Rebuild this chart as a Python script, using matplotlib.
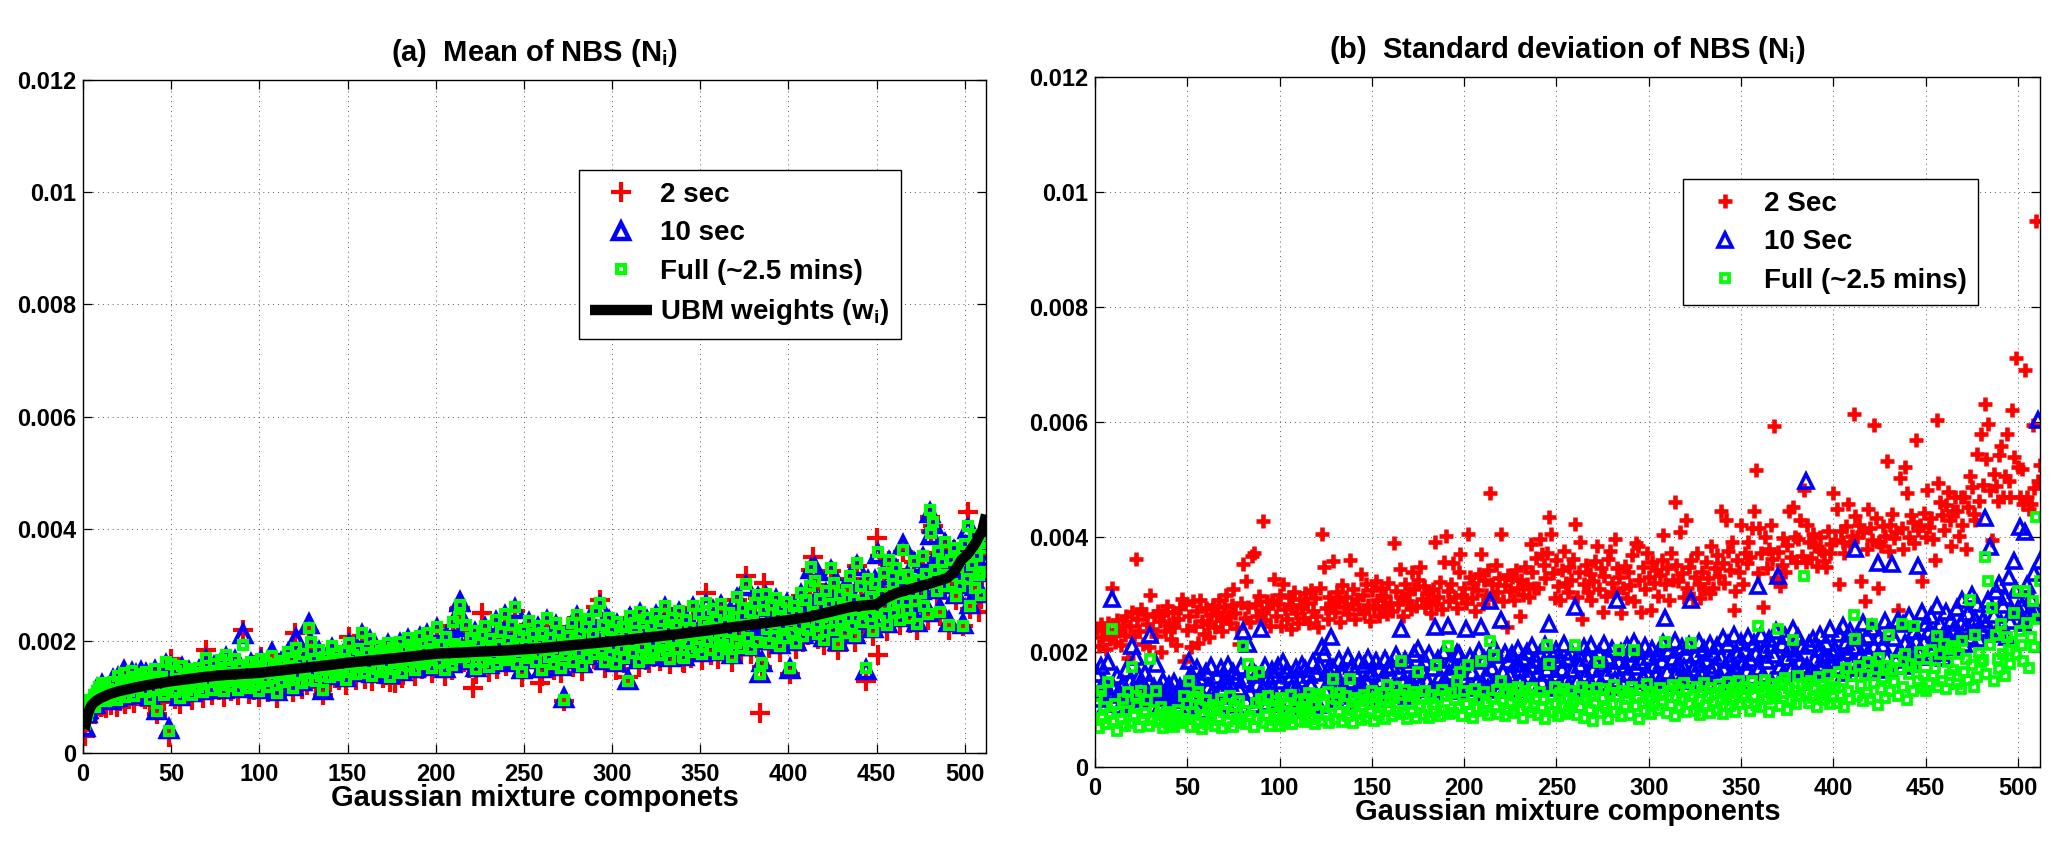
import numpy as np
import matplotlib
matplotlib.use('Agg')
import matplotlib.pyplot as plt
from matplotlib.ticker import FuncFormatter

# ---------------- data (values in units of 1e-5) ----------------
# (a) mean of NBS per Gaussian component (components sorted by UBM weight)
mean_full = [
    52, 68, 74, 95, 88, 103, 82, 110, 118, 96, 125, 104, 92, 115, 108, 99,
    126, 112, 95, 138, 104, 118, 142, 99, 131, 110, 124, 147, 102, 135, 116, 128,
    140, 121, 108, 145, 126, 97, 133, 115, 150, 74, 128, 112, 136, 104, 162, 118,
    40, 158, 124, 109, 146, 131, 98, 155, 120, 138, 112, 149, 127, 104, 142, 133,
    118, 151, 129, 108, 144, 170, 126, 139, 113, 158, 132, 147, 121, 165, 136, 110,
    174, 128, 152, 119, 143, 168, 131, 112, 157, 138, 193, 125, 149, 116, 162, 134,
    121, 155, 137, 110, 168, 146, 129, 160, 118, 142, 173, 133, 151, 107, 139, 164,
    126, 158, 141, 180, 133, 169, 116, 152, 188, 139, 162, 124, 176, 146, 131, 223,
    198, 142, 167, 129, 156, 184, 137, 113, 171, 148, 162, 135, 190, 154, 143, 176,
    139, 168, 152, 181, 131, 163, 197, 146, 174, 158, 140, 186, 153, 214, 166, 142,
    178, 156, 203, 138, 171, 191, 149, 165, 182, 144, 175, 158, 196, 136, 169, 187,
    152, 178, 161, 198, 143, 185, 170, 205, 155, 192, 166, 148, 187, 173, 209, 159,
    181, 163, 214, 170, 197, 152, 186, 175, 225, 161, 193, 179, 148, 206, 168, 188,
    157, 234, 195, 175, 242, 264, 189, 171, 229, 184, 162, 205, 177, 218, 150, 196,
    174, 211, 163, 226, 190, 154, 204, 182, 169, 237, 158, 193, 215, 176, 248, 166,
    200, 172, 228, 187, 261, 159, 208, 181, 145, 219, 193, 170, 236, 176, 212, 188,
    163, 226, 197, 148, 214, 183, 240, 171, 205, 188, 158, 231, 179, 216, 152, 194,
    95, 174, 208, 185, 232, 163, 199, 246, 178, 213, 156, 192, 224, 170, 239, 187,
    212, 177, 254, 194, 267, 183, 228, 162, 206, 240, 175, 219, 189, 158, 233, 201,
    186, 224, 170, 212, 128, 245, 196, 178, 231, 207, 163, 252, 189, 218, 175, 240,
    169, 227, 196, 182, 248, 210, 174, 236, 193, 262, 184, 219, 167, 241, 201, 229,
    185, 254, 207, 171, 169, 238, 196, 222, 180, 263, 212, 189, 247, 204, 176, 233,
    268, 199, 225, 183, 257, 211, 238, 177, 204, 266, 192, 231, 185, 249, 215, 172,
    243, 196, 278, 214, 187, 259, 229, 302, 205, 252, 186, 236, 267, 198, 281, 140,
    160, 255, 283, 221, 197, 264, 232, 208, 276, 243, 190, 258, 226, 205, 270, 238,
    151, 214, 262, 196, 249, 227, 285, 208, 240, 272, 219, 298, 332, 251, 306, 230,
    213, 274, 242, 202, 288, 231, 266, 329, 219, 303, 248, 195, 282, 236, 260, 214,
    290, 241, 316, 227, 272, 209, 338, 255, 297, 233, 268, 151, 310, 245, 279, 218,
    302, 257, 359, 236, 284, 321, 262, 228, 345, 276, 301, 249, 330, 270, 238, 312,
    362, 283, 255, 318, 240, 296, 343, 271, 230, 309, 286, 352, 263, 319, 247, 433,
    392, 412, 326, 288, 361, 252, 340, 297, 376, 318, 229, 345, 302, 365, 280, 331,
    298, 347, 226, 372, 311, 404, 262, 336, 389, 294, 352, 318, 281, 323, 366, 374,
]

mean_10s = [
    47, 71, 78, 90, 93, 99, 87, 114, 112, 101, 121, 108, 97, 111, 113, 95,
    131, 108, 99, 134, 109, 114, 146, 104, 127, 115, 120, 143, 106, 139, 112, 132,
    144, 117, 112, 141, 130, 101, 129, 119, 146, 76, 132, 108, 140, 108, 157, 122,
    42, 154, 128, 113, 142, 135, 102, 151, 124, 134, 116, 145, 131, 108, 138, 137,
    122, 147, 133, 112, 148, 166, 130, 135, 117, 154, 136, 143, 125, 161, 140, 114,
    170, 132, 148, 123, 147, 164, 135, 116, 153, 142, 212, 129, 145, 120, 158, 138,
    125, 151, 141, 114, 164, 150, 133, 156, 122, 146, 178, 137, 147, 111, 143, 160,
    130, 154, 145, 176, 137, 165, 120, 156, 203, 143, 158, 128, 172, 150, 135, 230,
    194, 146, 163, 133, 152, 180, 141, 112, 167, 152, 158, 139, 186, 150, 147, 172,
    143, 164, 156, 177, 135, 159, 193, 150, 170, 162, 144, 182, 157, 210, 162, 146,
    174, 160, 199, 142, 167, 187, 153, 161, 178, 148, 171, 162, 192, 140, 165, 183,
    156, 174, 165, 194, 147, 181, 174, 201, 159, 188, 170, 152, 183, 177, 205, 163,
    185, 167, 210, 174, 193, 156, 182, 179, 221, 165, 189, 183, 152, 202, 172, 184,
    161, 230, 199, 171, 250, 270, 185, 175, 225, 188, 166, 201, 181, 214, 154, 192,
    178, 207, 167, 222, 194, 158, 200, 186, 173, 233, 162, 189, 211, 180, 244, 170,
    196, 176, 224, 191, 257, 163, 204, 185, 149, 215, 197, 174, 232, 180, 208, 192,
    167, 222, 201, 152, 210, 187, 236, 175, 201, 192, 162, 227, 183, 212, 156, 190,
    98, 178, 204, 189, 228, 167, 195, 242, 182, 209, 160, 188, 220, 174, 235, 191,
    208, 181, 250, 198, 263, 187, 224, 166, 202, 236, 179, 215, 193, 162, 229, 205,
    190, 220, 174, 208, 130, 241, 200, 182, 227, 211, 167, 248, 193, 214, 179, 236,
    173, 223, 200, 186, 244, 214, 178, 232, 197, 258, 188, 215, 171, 237, 205, 225,
    189, 250, 211, 175, 173, 234, 200, 218, 184, 259, 216, 193, 243, 208, 180, 229,
    264, 203, 221, 187, 253, 215, 234, 181, 208, 262, 196, 227, 189, 245, 219, 176,
    239, 200, 274, 218, 191, 255, 233, 298, 209, 248, 190, 232, 263, 202, 277, 142,
    162, 251, 279, 225, 201, 260, 236, 212, 272, 247, 194, 254, 230, 209, 266, 242,
    150, 218, 258, 200, 245, 231, 281, 212, 244, 268, 223, 294, 328, 255, 329, 234,
    217, 270, 246, 206, 284, 235, 262, 325, 223, 299, 252, 199, 278, 240, 256, 218,
    294, 245, 312, 231, 268, 213, 334, 259, 293, 237, 264, 148, 306, 249, 275, 222,
    306, 261, 355, 240, 280, 317, 266, 232, 341, 280, 297, 253, 326, 274, 242, 308,
    370, 287, 259, 314, 244, 292, 339, 275, 234, 305, 290, 348, 267, 315, 251, 428,
    388, 408, 330, 292, 357, 256, 336, 301, 372, 322, 233, 341, 306, 361, 284, 327,
    302, 343, 230, 368, 315, 400, 266, 332, 385, 298, 348, 322, 285, 327, 362, 378,
]

mean_2s = [
    30, 55, 62, 78, 72, 90, 70, 95, 104, 82, 110, 90, 80, 100, 96, 86,
    112, 98, 82, 124, 92, 104, 130, 88, 118, 96, 112, 134, 90, 122, 102, 116,
    128, 108, 96, 132, 112, 86, 120, 102, 138, 70, 116, 98, 124, 92, 150, 106,
    28, 168, 114, 97, 136, 120, 88, 146, 110, 126, 102, 140, 118, 94, 132, 124,
    108, 142, 120, 98, 136, 184, 116, 130, 104, 150, 124, 138, 112, 156, 128, 100,
    166, 118, 144, 110, 134, 160, 122, 104, 148, 130, 220, 116, 140, 106, 154, 126,
    112, 148, 128, 100, 172, 138, 120, 152, 108, 134, 166, 124, 142, 98, 130, 156,
    118, 150, 132, 174, 124, 162, 108, 214, 180, 130, 154, 114, 168, 138, 122, 216,
    190, 132, 158, 120, 146, 176, 128, 104, 162, 138, 154, 126, 182, 144, 134, 168,
    130, 160, 142, 172, 122, 154, 206, 136, 166, 148, 130, 178, 144, 208, 156, 132,
    170, 146, 194, 128, 162, 182, 140, 156, 174, 134, 166, 148, 188, 126, 160, 178,
    125, 170, 152, 190, 134, 176, 160, 196, 146, 184, 158, 138, 178, 164, 200, 150,
    172, 154, 206, 160, 188, 142, 178, 166, 218, 152, 184, 170, 138, 198, 158, 180,
    148, 226, 186, 166, 256, 258, 180, 162, 220, 176, 152, 196, 116, 210, 140, 188,
    166, 250, 154, 218, 182, 144, 196, 172, 160, 230, 150, 184, 206, 168, 242, 156,
    192, 164, 220, 178, 254, 150, 200, 172, 136, 212, 184, 162, 228, 168, 204, 180,
    154, 218, 125, 138, 206, 174, 234, 162, 196, 180, 148, 224, 170, 208, 142, 186,
    92, 166, 200, 176, 224, 154, 190, 240, 170, 206, 146, 184, 216, 160, 232, 178,
    204, 168, 260, 186, 272, 174, 220, 152, 198, 234, 166, 212, 180, 148, 226, 192,
    178, 216, 160, 204, 136, 240, 188, 170, 224, 198, 154, 246, 180, 210, 166, 234,
    160, 220, 188, 172, 242, 202, 164, 230, 184, 256, 176, 212, 158, 234, 192, 222,
    176, 248, 198, 162, 160, 232, 188, 214, 170, 258, 204, 180, 240, 196, 166, 226,
    285, 190, 218, 174, 250, 202, 230, 168, 196, 262, 182, 224, 176, 242, 206, 162,
    236, 186, 272, 206, 178, 252, 220, 315, 196, 246, 176, 228, 260, 188, 276, 71,
    154, 303, 276, 212, 188, 256, 224, 198, 270, 236, 180, 250, 218, 196, 262, 230,
    140, 206, 254, 186, 242, 218, 280, 198, 232, 266, 210, 292, 326, 350, 300, 222,
    204, 268, 234, 192, 282, 222, 258, 324, 210, 298, 240, 184, 276, 228, 252, 205,
    286, 232, 310, 218, 264, 198, 334, 246, 290, 224, 260, 128, 304, 236, 272, 208,
    296, 383, 175, 352, 276, 316, 254, 218, 342, 268, 294, 240, 326, 262, 228, 306,
    358, 276, 246, 312, 232, 290, 340, 264, 220, 304, 278, 348, 254, 314, 238, 420,
    396, 404, 320, 280, 356, 244, 336, 290, 372, 312, 220, 340, 296, 362, 272, 326,
    292, 340, 226, 368, 304, 430, 256, 330, 384, 288, 348, 252, 274, 318, 360, 370,
]

# UBM weights (sorted), read at knots along the black curve
ubm_x = [1, 2, 3, 4, 5, 7, 10, 15, 20, 30, 40, 50, 60, 70, 80, 90, 100, 120, 140,
         150, 160, 180, 200, 220, 240, 250, 260, 280, 300, 320, 340, 360, 380, 400,
         412, 424, 436, 450, 455, 461, 471, 481, 490, 494, 498, 502, 506, 510, 512]
ubm_w = [42, 60, 72, 80, 86, 92, 98, 105, 110, 117, 123, 128, 132, 136, 139, 141, 143,
         150, 157, 161, 164, 170, 177, 180, 183, 185, 187, 193, 199, 206, 213, 221,
         229, 237, 243, 252, 261, 265, 276, 285, 294, 303, 312, 323, 344, 356, 374,
         398, 425]

# (b) standard deviation of NBS
std_2s = [
    242, 210, 248, 226, 238, 205, 250, 222, 312, 232, 218, 255, 236, 212, 247, 229,
    262, 190, 245, 270, 228, 362, 258, 236, 274, 214, 266, 248, 208, 300, 240, 262,
    228, 272, 254, 200, 264, 236, 280, 248, 222, 270, 244, 212, 258, 276, 292, 185,
    284, 238, 262, 208, 288, 246, 272, 216, 290, 254, 232, 276, 248, 226, 264, 282,
    244, 270, 290, 256, 236, 278, 300, 262, 250, 282, 310, 268, 242, 214, 286, 353,
    260, 324, 278, 252, 367, 373, 284, 262, 298, 272, 428, 256, 288, 276, 246, 290,
    327, 262, 284, 300, 246, 318, 274, 258, 296, 240, 282, 304, 268, 250, 292, 276,
    260, 302, 286, 250, 308, 272, 294, 262, 244, 312, 405, 347, 276, 258, 296, 282,
    359, 270, 304, 288, 252, 316, 278, 296, 266, 360, 284, 310, 258, 292, 274, 336,
    300, 268, 318, 282, 254, 308, 276, 324, 290, 262, 312, 280, 298, 266, 320, 286,
    272, 389, 306, 284, 344, 296, 262, 318, 288, 302, 274, 340, 310, 280, 326, 348,
    292, 314, 278, 302, 288, 268, 310, 392, 284, 296, 322, 274, 356, 402, 306, 288,
    318, 354, 296, 276, 340, 370, 300, 312, 286, 405, 330, 294, 320, 272, 308, 336,
    370, 284, 326, 300, 342, 476, 318, 292, 352, 304, 328, 405, 288, 316, 244, 334,
    306, 330, 290, 342, 312, 262, 326, 300, 348, 318, 296, 388, 340, 312, 364, 312,
    397, 370, 352, 328, 372, 434, 405, 338, 294, 360, 315, 290, 342, 376, 320, 304,
    348, 326, 362, 422, 296, 340, 391, 258, 318, 352, 304, 336, 290, 324, 358, 385,
    310, 346, 270, 332, 298, 362, 376, 320, 304, 397, 346, 330, 267, 312, 350, 294,
    340, 316, 368, 288, 390, 385, 326, 270, 348, 310, 372, 330, 273, 356, 320, 342,
    298, 334, 360, 403, 318, 346, 290, 373, 326, 460, 352, 324, 409, 338, 296, 430,
    312, 348, 360, 294, 330, 372, 318, 294, 340, 310, 356, 328, 302, 385, 312, 346,
    368, 332, 445, 354, 320, 430, 376, 342, 391, 273, 306, 360, 340, 421, 318, 373,
    354, 392, 366, 415, 445, 516, 338, 415, 372, 279, 400, 346, 380, 421, 362, 593,
    328, 374, 315, 352, 398, 340, 386, 445, 366, 452, 400, 356, 397, 430, 367, 482,
    356, 421, 392, 364, 406, 385, 350, 379, 400, 376, 358, 348, 410, 372, 388, 476,
    394, 448, 318, 410, 391, 372, 420, 458, 386, 402, 614, 436, 400, 421, 324, 409,
    288, 380, 448, 416, 394, 594, 433, 312, 391, 385, 420, 402, 532, 376, 421, 440,
    398, 409, 273, 503, 416, 380, 522, 477, 400, 439, 426, 390, 568, 412, 421, 324,
    442, 400, 482, 418, 433, 396, 360, 603, 494, 460, 438, 412, 456, 478, 430, 385,
    445, 470, 445, 402, 470, 421, 470, 379, 452, 506, 487, 440, 430, 545, 462, 579,
    490, 632, 536, 597, 482, 394, 510, 488, 462, 542, 558, 470, 506, 580, 498, 470,
    621, 540, 712, 521, 470, 518, 458, 690, 470, 448, 458, 594, 485, 950, 497, 525,
]

std_10s = [
    162, 118, 175, 134, 148, 110, 182, 126, 292, 140, 114, 158, 130, 106, 144, 122,
    168, 112, 150, 211, 136, 191, 124, 158, 142, 118, 164, 130, 148, 229, 126, 140,
    179, 120, 138, 110, 150, 128, 104, 142, 132, 116, 148, 124, 108, 140, 130, 118,
    136, 104, 185, 162, 118, 148, 172, 110, 154, 126, 98, 166, 140, 114, 176, 132,
    120, 158, 104, 172, 134, 150, 112, 178, 146, 124, 166, 108, 156, 138, 174, 237,
    152, 116, 214, 130, 170, 108, 160, 144, 124, 240, 138, 176, 112, 156, 130, 168,
    160, 122, 176, 110, 150, 182, 128, 168, 116, 158, 140, 106, 172, 134, 152, 178,
    126, 170, 114, 160, 142, 182, 120, 164, 108, 176, 208, 197, 132, 168, 150, 226,
    172, 118, 156, 186, 128, 162, 140, 114, 191, 150, 176, 124, 166, 136, 184, 146,
    130, 178, 152, 190, 122, 164, 140, 184, 128, 170, 150, 118, 188, 144, 172, 132,
    176, 138, 194, 126, 166, 240, 148, 186, 124, 178, 152, 134, 196, 160, 205, 142,
    168, 126, 184, 150, 196, 136, 172, 243, 130, 188, 158, 142, 200, 146, 246, 164,
    186, 140, 174, 198, 197, 132, 180, 154, 240, 138, 192, 166, 128, 184, 150, 202,
    243, 144, 188, 160, 138, 289, 172, 208, 150, 194, 134, 255, 166, 198, 142, 184,
    160, 196, 136, 180, 206, 148, 170, 190, 140, 200, 158, 176, 210, 144, 186, 164,
    196, 150, 182, 212, 170, 248, 144, 194, 160, 204, 138, 186, 170, 214, 152, 190,
    142, 200, 168, 279, 150, 196, 178, 138, 208, 160, 190, 148, 212, 170, 186, 156,
    198, 146, 180, 214, 160, 192, 140, 206, 172, 152, 291, 184, 200, 146, 176, 210,
    162, 196, 150, 218, 174, 140, 202, 182, 156, 210, 166, 192, 144, 206, 178, 160,
    198, 152, 184, 216, 260, 166, 204, 146, 190, 220, 162, 180, 150, 208, 174, 196,
    156, 212, 291, 170, 194, 150, 218, 180, 160, 206, 186, 148, 214, 168, 198, 176,
    210, 158, 192, 224, 170, 146, 214, 186, 160, 230, 176, 196, 152, 218, 182, 204,
    168, 226, 188, 156, 216, 198, 315, 172, 230, 160, 204, 184, 222, 150, 212, 194,
    236, 333, 176, 214, 162, 228, 190, 206, 170, 240, 198, 166, 226, 184, 210, 172,
    497, 176, 214, 168, 222, 188, 162, 206, 230, 178, 194, 216, 170, 240, 184, 198,
    206, 174, 232, 190, 246, 164, 218, 200, 236, 182, 208, 379, 172, 224, 196, 250,
    180, 228, 198, 166, 242, 210, 184, 355, 226, 172, 212, 254, 190, 238, 168, 353,
    224, 186, 256, 204, 176, 248, 216, 192, 262, 208, 180, 236, 220, 350, 198, 270,
    218, 250, 192, 236, 262, 206, 232, 280, 198, 248, 226, 190, 270, 230, 212, 256,
    236, 208, 276, 232, 250, 290, 214, 244, 268, 226, 300, 236, 258, 284, 222, 240,
    256, 433, 248, 290, 382, 232, 264, 306, 238, 318, 250, 282, 296, 226, 330, 254,
    270, 358, 308, 274, 418, 280, 250, 409, 316, 268, 294, 264, 338, 272, 603, 358,
]

std_full = [
    124, 68, 132, 86, 104, 75, 148, 92, 240, 80, 110, 62, 96, 84, 118, 72,
    98, 130, 76, 174, 88, 124, 106, 70, 132, 84, 94, 116, 72, 188, 82, 100,
    133, 78, 90, 104, 68, 86, 96, 74, 92, 82, 70, 88, 100, 76, 84, 124,
    84, 110, 150, 70, 96, 122, 76, 130, 104, 66, 90, 116, 74, 100, 82, 108,
    72, 104, 86, 118, 68, 96, 110, 80, 124, 92, 70, 106, 84, 114, 76, 211,
    98, 74, 179, 88, 162, 70, 112, 84, 165, 118, 76, 102, 90, 124, 72, 106,
    82, 114, 92, 72, 120, 98, 78, 110, 86, 126, 74, 104, 94, 116, 80, 100,
    118, 78, 102, 128, 84, 108, 74, 122, 96, 127, 80, 112, 90, 130, 76, 106,
    153, 84, 118, 96, 128, 78, 110, 124, 88, 153, 100, 76, 120, 92, 114, 82,
    106, 126, 86, 118, 96, 132, 80, 112, 122, 90, 104, 128, 84, 142, 100, 116,
    88, 120, 139, 98, 126, 185, 92, 134, 84, 112, 124, 96, 130, 86, 165, 108,
    118, 90, 132, 104, 86, 126, 110, 96, 177, 120, 88, 134, 100, 124, 211, 92,
    128, 94, 116, 150, 104, 165, 88, 132, 110, 177, 96, 124, 86, 136, 102, 118,
    185, 98, 130, 112, 90, 220, 120, 194, 104, 134, 92, 150, 116, 88, 128, 100,
    112, 136, 94, 124, 140, 100, 118, 86, 132, 108, 126, 96, 138, 104, 120, 90,
    130, 102, 118, 84, 212, 179, 124, 96, 140, 110, 88, 128, 104, 136, 92, 120,
    98, 132, 114, 212, 90, 126, 104, 140, 86, 118, 134, 100, 124, 80, 112, 138,
    182, 94, 120, 136, 102, 84, 128, 110, 142, 96, 124, 203, 88, 132, 106, 118,
    128, 90, 140, 203, 106, 122, 84, 134, 112, 98, 144, 118, 92, 130, 108, 126,
    100, 138, 114, 126, 218, 94, 132, 108, 142, 88, 122, 136, 104, 116, 146, 96,
    134, 110, 215, 124, 98, 140, 116, 90, 130, 146, 106, 122, 94, 138, 112, 128,
    100, 142, 118, 92, 134, 124, 148, 106, 116, 138, 96, 128, 150, 110, 122, 140,
    112, 136, 98, 150, 124, 108, 245, 140, 104, 130, 152, 118, 96, 144, 126, 134,
    120, 240, 106, 148, 128, 154, 100, 138, 116, 221, 132, 110, 158, 124, 142, 333,
    128, 146, 112, 150, 120, 138, 104, 156, 126, 142, 116, 134, 160, 110, 140, 122,
    138, 112, 166, 126, 150, 104, 172, 132, 118, 158, 265, 222, 124, 176, 142, 114,
    160, 128, 182, 118, 248, 146, 170, 108, 190, 136, 154, 120, 176, 230, 132, 168,
    148, 186, 124, 170, 248, 140, 196, 116, 162, 180, 132, 245, 174, 150, 200, 138,
    160, 132, 188, 146, 204, 158, 172, 227, 140, 196, 150, 214, 136, 182, 160, 206,
    168, 210, 144, 196, 136, 220, 166, 188, 152, 291, 178, 140, 230, 156, 198, 182,
    186, 365, 162, 324, 212, 276, 150, 230, 188, 170, 248, 196, 158, 226, 204, 180,
    218, 267, 196, 306, 236, 212, 184, 306, 250, 172, 226, 288, 208, 435, 258, 324,
]

x_ticks = list(range(0, 501, 50))
y_ticks = [0, 0.002, 0.004, 0.006, 0.008, 0.01, 0.012]
UNIT = 1e-5

# ---------------- styling ----------------
plt.rcParams['font.family'] = ['Liberation Sans', 'DejaVu Sans']
plt.rcParams['font.weight'] = 'bold'
plt.rcParams['mathtext.fontset'] = 'custom'
plt.rcParams['mathtext.rm'] = 'Liberation Sans:bold'
plt.rcParams['mathtext.bf'] = 'Liberation Sans:bold'
plt.rcParams['mathtext.it'] = 'Liberation Sans:bold'
plt.rcParams['mathtext.default'] = 'rm'

W, H = 2071, 848
fig = plt.figure(figsize=(W / 100, H / 100), dpi=100)
ax1 = fig.add_axes([83 / W, (H - 753) / H, 903 / W, 673 / H])
ax2 = fig.add_axes([1095 / W, (H - 767) / H, 945 / W, 690 / H])


def style(ax, xlabel, title):
    ax.set_xlim(0, 512)
    ax.set_ylim(0, 0.012)
    ax.set_xticks(x_ticks)
    ax.set_yticks(y_ticks)
    ax.yaxis.set_major_formatter(FuncFormatter(lambda v, p: '%g' % round(v, 6)))
    ax.tick_params(direction='in', length=6.5, width=0.9, top=True, right=True,
                   labelsize=17, colors='black')
    ax.tick_params(axis='x', pad=7.5)
    ax.tick_params(axis='y', pad=5)
    ax.grid(True, linestyle=(0, (1, 4)), color='0.35', linewidth=0.7)
    ax.set_axisbelow(True)
    for s in ax.spines.values():
        s.set_linewidth(1.0)
    for lab in ax.get_xticklabels() + ax.get_yticklabels():
        lab.set_fontweight('bold')
    ax.set_xlabel(xlabel, fontsize=21, fontweight='bold', labelpad=-2)
    ax.set_title(title, fontsize=21, fontweight='bold', pad=14)


def xs(arr):
    return np.arange(1, len(arr) + 1)


# ---------------- panel (a) ----------------
h1, = ax1.plot(xs(mean_2s), np.array(mean_2s) * UNIT, linestyle='none', marker='+',
               color='#ff0000', markersize=14, markeredgewidth=3.0, label='2 sec')
h2, = ax1.plot(xs(mean_10s), np.array(mean_10s) * UNIT, linestyle='none', marker='^',
               color='#0000ff', markerfacecolor='none', markersize=11.5,
               markeredgewidth=3.2, label='10 sec')
h3, = ax1.plot(xs(mean_full), np.array(mean_full) * UNIT, linestyle='none', marker='s',
               color='#00ff00', markerfacecolor='none', markersize=6.3,
               markeredgewidth=3.0, label='Full (~2.5 mins)')
h4, = ax1.plot(ubm_x, np.array(ubm_w) * UNIT, color='black', linewidth=7.5,
               solid_capstyle='butt', label='UBM weights (w$_i$)')
style(ax1, 'Gaussian mixture componets', '(a)  Mean of NBS (N$_i$)')
leg1 = ax1.legend(handles=[h1, h2, h3, h4], loc='upper left', bbox_to_anchor=(0.549, 0.866),
                  prop={'size': 20, 'weight': 'bold'}, frameon=True, fancybox=False,
                  edgecolor='black', framealpha=1, handlelength=2.2, handletextpad=0.3,
                  labelspacing=0.45, borderpad=0.42, borderaxespad=0, numpoints=1)
leg1.get_frame().set_linewidth(1.0)

# ---------------- panel (b) ----------------
g1, = ax2.plot(xs(std_2s), np.array(std_2s) * UNIT, linestyle='none', marker='+',
               color='#ff0000', markersize=9.5, markeredgewidth=3.3, label='2 Sec')
g2, = ax2.plot(xs(std_10s), np.array(std_10s) * UNIT, linestyle='none', marker='^',
               color='#0000ff', markerfacecolor='none', markersize=10.5,
               markeredgewidth=2.6, label='10 Sec')
g3, = ax2.plot(xs(std_full), np.array(std_full) * UNIT, linestyle='none', marker='s',
               color='#00ff00', markerfacecolor='none', markersize=5.5,
               markeredgewidth=2.7, label='Full (~2.5 mins)')
style(ax2, 'Gaussian mixture components', '(b)  Standard deviation of NBS (N$_i$)')
leg2 = ax2.legend(handles=[g1, g2, g3], loc='upper left', bbox_to_anchor=(0.622, 0.852),
                  prop={'size': 20, 'weight': 'bold'}, frameon=True, fancybox=False,
                  edgecolor='black', framealpha=1, handlelength=2.2, handletextpad=0.3,
                  labelspacing=0.45, borderpad=0.42, borderaxespad=0, numpoints=1)
leg2.get_frame().set_linewidth(1.0)

fig.savefig('out.png', dpi=100)
